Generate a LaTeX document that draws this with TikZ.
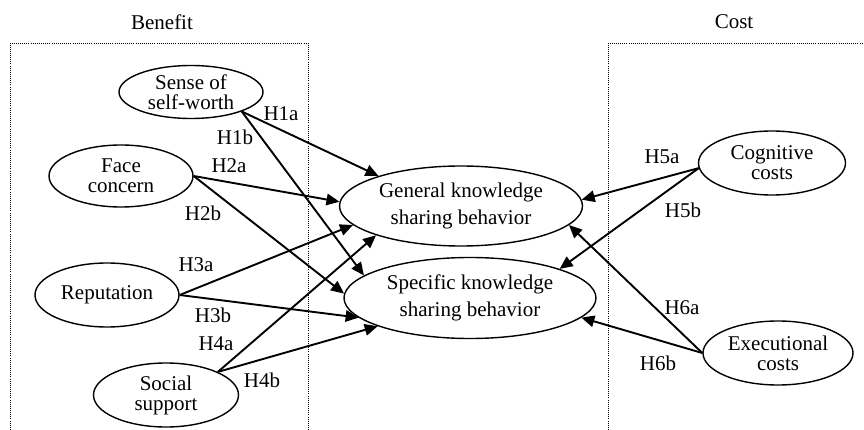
\documentclass[tikz,border=0pt]{standalone}
\usepackage{fontspec}
\setmainfont{Liberation Serif}
\usetikzlibrary{shapes.geometric,arrows.meta}
\begin{document}
\begin{tikzpicture}[x=1pt,y=-1pt,
  small/.style={ellipse,draw,line width=1.4pt,inner xsep=0pt,inner ysep=-6pt,align=center,font=\fontsize{21}{20}\selectfont},
  big/.style={ellipse,draw,line width=1.4pt,inner sep=0pt,align=center,font=\fontsize{21}{27}\selectfont},
  lbl/.style={font=\fontsize{21}{25}\selectfont,inner sep=0pt},
  arr/.style={line width=1.9pt,-{Triangle[length=13pt,width=11.5pt]}},
  grp/.style={line width=0.9pt,dash pattern=on 1pt off 1.1pt}]
\useasboundingbox (0,0) rectangle (864,430);

% group frames
\coordinate (b1) at (10,432);
\coordinate (b2) at (10,43);
\coordinate (b3) at (308,43);
\coordinate (b4) at (308,432);
\draw[grp] (b1) -- (b2) -- (b3) -- (b4);
\coordinate (c1) at (608,432);
\coordinate (c2) at (608,43);
\coordinate (c3) at (866,43);
\draw[grp] (c1) -- (c2) -- (c3);
\node[lbl] (benefit) at (162,22) {Benefit};
\node[lbl] (cost) at (734,22) {Cost};

% nodes
\node[small,minimum width=144pt,minimum height=53pt] (sense) at (191,92) {Sense of\\self-worth};
\node[small,minimum width=144pt,minimum height=62pt] (face) at (121,176) {Face\\concern};
\node[small,minimum width=144pt,minimum height=64pt] (rep) at (107,295) {Reputation};
\node[small,minimum width=145pt,minimum height=64pt] (social) at (166,395) {Social\\support};
\node[big,minimum width=243pt,minimum height=80pt] (general) at (461,206) {General knowledge\\sharing behavior};
\node[big,minimum width=252pt,minimum height=81pt] (specific) at (470,298) {Specific knowledge\\sharing behavior};
\node[small,minimum width=147pt,minimum height=64pt] (cog) at (772,163) {Cognitive\\costs};
\node[small,minimum width=150pt,minimum height=64pt] (exe) at (778,353) {Executional\\costs};

% connectors
\draw[arr] (sense.-21) -- (general.160);
\draw[arr] (sense.-21) -- (specific.168);
\draw[arr] (face.east) -- (general.178);
\draw[arr] (face.east) -- (specific.178);
\draw[arr] (rep.east) -- (general.-170);
\draw[arr] (rep.east) -- (specific.-170);
\draw[arr] (social.24) -- (general.-161);
\draw[arr] (social.24) -- (specific.-163);
\draw[arr] (cog.-176) -- (general.3);
\draw[arr] (cog.-176) -- (specific.18);
\draw[arr] (exe.west) -- (general.-10);
\draw[arr] (exe.west) -- (specific.-10);

% labels
\node[lbl] (h1a) at (281,114) {H1a};
\node[lbl] (h1b) at (235,137) {H1b};
\node[lbl] (h2a) at (229,166) {H2a};
\node[lbl] (h2b) at (203,213) {H2b};
\node[lbl] (h3a) at (196,265) {H3a};
\node[lbl] (h3b) at (213,315) {H3b};
\node[lbl] (h4a) at (216,344) {H4a};
\node[lbl] (h4b) at (262,380) {H4b};
\node[lbl] (h5a) at (662,157) {H5a};
\node[lbl] (h5b) at (683,210) {H5b};
\node[lbl] (h6a) at (682,308) {H6a};
\node[lbl] (h6b) at (658,363) {H6b};
\end{tikzpicture}
\end{document}
